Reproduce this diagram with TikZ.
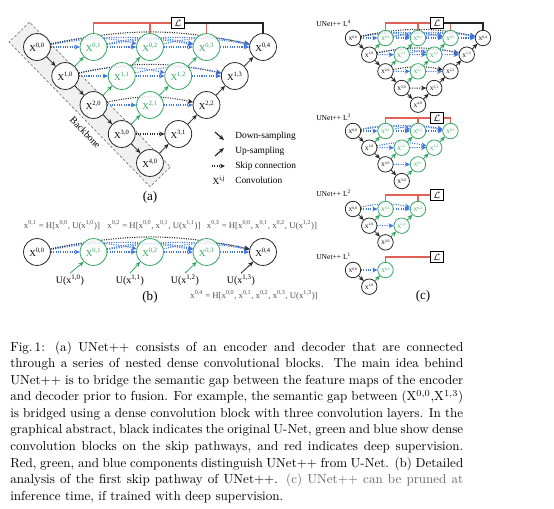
\documentclass[tikz,border=0pt]{standalone}
\usepackage{fontspec}
\newfontfamily\tms{Liberation Serif}
\usetikzlibrary{arrows.meta, positioning, backgrounds, calc}
\usepackage{xcolor}
\definecolor{netgreen}{RGB}{50,165,95}
\definecolor{netblue}{RGB}{60,115,225}
\definecolor{lossred}{RGB}{226,96,86}
\definecolor{eqgray}{RGB}{80,80,80}

% one nested network X^{i,j}, i+j <= depth
% #1 name prefix, #2 depth, #3 = 1 if the last decoder is the plain U-Net
\newcommand\unetnet[3]{%
  \foreach \i in {0,...,#2}{%
    \pgfmathtruncatemacro\jmax{#2-\i}%
    \foreach \j in {0,...,\jmax}{%
      \def\sty{nest}%
      \ifnum\j=0 \def\sty{enc}\fi
      \ifnum#3=1 \ifnum\j=\jmax \def\sty{enc}\fi\fi
      \node[\sty] (#1-\i-\j) at ({28.25*(\i+2*\j)},{29*\i}) {X\textsuperscript{\i,\j}};
    }%
  }%
  % connectors go behind the nodes
  \begin{scope}[on background layer]
  \foreach \i in {0,...,#2}{%
    \pgfmathtruncatemacro\jmax{#2-\i}%
    \pgfmathtruncatemacro\ii{\i+1}%
    \ifnum\i<#2 \draw[blackarr] (#1-\i-0) -- (#1-\ii-0);\fi
    \ifnum\jmax>0
      \foreach \j in {1,...,\jmax}{%
        \pgfmathtruncatemacro\pj{\j-1}%
        \def\isplain{0}%
        \ifnum#3=1 \ifnum\j=\jmax \def\isplain{1}\fi\fi
        % up-sampling
        \ifnum\isplain=1
          \draw[blackarr] (#1-\ii-\pj) -- (#1-\i-\j);
        \else
          \draw[greenarr] (#1-\ii-\pj) -- (#1-\i-\j);
        \fi
        % skip from the left neighbour
        \def\sk{skipblue}%
        \ifnum\isplain=1 \ifnum\pj=0 \def\sk{skipblack}\fi\fi
        \draw[\sk] (#1-\i-\pj) -- (#1-\i-\j);
        % longer skips
        \ifnum\j>1
          \pgfmathtruncatemacro\kmax{\j-2}%
          \foreach \k in {0,...,\kmax}{%
            \def\sk{skipblue}\def\bnd{13}%
            \pgfmathtruncatemacro\gap{\j-\k}%
            \ifnum\gap>2 \def\bnd{10}\fi
            \ifnum\k=0 \ifnum\isplain=1 \def\sk{skipblack}\def\bnd{12}\fi\fi
            \draw[\sk] (#1-\i-\k) to[bend left=\bnd] (#1-\i-\j);
          }%
        \fi
      }%
    \fi
  }%
  \end{scope}%
}

\begin{document}
\begin{tikzpicture}[x=0.766pt, y=-0.766pt,
    netnode/.style={circle, draw, line width=0.6pt, minimum size=20.6pt, inner sep=0pt,
                    fill=white, fill opacity=0.8, text opacity=1, font=\tms\fontsize{7}{8}\selectfont},
    enc/.style={netnode, draw=black!85, text=black},
    nest/.style={netnode, draw=netgreen, text=netgreen},
    blackarr/.style={-{Stealth[length=4pt, width=3.4pt]}, line width=0.6pt, black!85},
    greenarr/.style={-{Stealth[length=4pt, width=3.4pt]}, line width=0.6pt, netgreen},
    skipblue/.style={-{Stealth[length=4pt, width=3.6pt]}, densely dotted, line width=0.8pt, netblue},
    skipblack/.style={skipblue, black!85},
    lossbox/.style={rectangle, draw, line width=0.9pt, fill=white, minimum width=10pt,
                    minimum height=8.8pt, inner sep=0pt, font=\fontsize{7}{7}\selectfont},
    redwire/.style={lossred, line width=0.8pt},
    blackwire/.style={black!85, line width=0.9pt},
    backbone/.style={draw=black!55, dash pattern=on 2pt off 1.5pt, line width=0.5pt, fill=black!6},
    bbtext/.style={font=\tms\fontsize{7.5}{8}\selectfont, inner sep=0pt},
    lgtext/.style={font=\tms\fontsize{7.2}{8}\selectfont, anchor=west, inner sep=0pt},
    eqtext/.style={font=\tms\fontsize{6.7}{8}\selectfont, text=eqgray, inner sep=0pt},
    ulabel/.style={font=\tms\fontsize{7.6}{9}\selectfont, inner sep=1pt},
    nettitle/.style={font=\tms\fontsize{5.8}{7}\selectfont, anchor=west, inner sep=0pt},
    panel/.style={font=\tms\fontsize{10}{12}\selectfont, inner sep=0pt}
]
\useasboundingbox (0,0) rectangle (554,508);

% --- (a) Backbone ---
\begin{scope}[on background layer, shift={(37,47)}, rotate=-45.75]
    \draw[backbone] (-23,-12) rectangle (179,16.5);
    \node[bbtext, rotate=-45.75] (bb) at (95,25) {Backbone};
\end{scope}

% --- (a) Full UNet++ ---
\begin{scope}[shift={(37,47)}]
    \unetnet{a}{4}{1}
\end{scope}

% deep supervision of (a)
\node[lossbox] (loss-a) at (178,23) {$\mathcal{L}$};
\draw[redwire] (a-0-1.north) |- (loss-a.west);
\draw[redwire] (a-0-2.north) -- (a-0-2.north |- loss-a.west);
\draw[redwire] (a-0-3.north) |- (loss-a.east);
\draw[blackwire] (loss-a.east) -| (a-0-4.north);

% --- Legend ---
\coordinate (lg-d1) at (215,132); \coordinate (lg-d2) at (224,140);
\coordinate (lg-u1) at (215,156); \coordinate (lg-u2) at (224,148);
\coordinate (lg-s1) at (212,166); \coordinate (lg-s2) at (225,166);
\draw[blackarr, line width=0.9pt] (lg-d1) -- (lg-d2);
\draw[blackarr, line width=0.9pt] (lg-u1) -- (lg-u2);
\draw[skipblack] (lg-s1) -- (lg-s2);
\node[lgtext, anchor=center] (lg-x) at (219,180) {X\textsuperscript{i,j}};
\node[lgtext] (lg-t1) at (235,136) {Down-sampling};
\node[lgtext] (lg-t2) at (235,151) {Up-sampling};
\node[lgtext] (lg-t3) at (235,166) {Skip connection};
\node[lgtext] (lg-t4) at (235,180) {Convolution};

\node[panel] (lab-a) at (150,197) {(a)};

% --- (b) First skip pathway ---
\node[enc]  (b-0-0) at (37,252)  {X\textsuperscript{0,0}};
\node[nest] (b-0-1) at (93.5,252) {X\textsuperscript{0,1}};
\node[nest] (b-0-2) at (150,252) {X\textsuperscript{0,2}};
\node[nest] (b-0-3) at (206.5,252) {X\textsuperscript{0,3}};
\node[enc]  (b-0-4) at (263,252) {X\textsuperscript{0,4}};

\begin{scope}[on background layer]
    \foreach \j [count=\pj from 0] in {1,2,3,4}
        \draw[skipblue] (b-0-\pj) -- (b-0-\j);
    \draw[skipblue] (b-0-0) to[bend left=13] (b-0-2);
    \draw[skipblue] (b-0-1) to[bend left=13] (b-0-3);
    \draw[skipblue] (b-0-2) to[bend left=13] (b-0-4);
    \draw[skipblue] (b-0-0) to[bend left=10] (b-0-3);
    \draw[skipblue] (b-0-1) to[bend left=10] (b-0-4);
    \draw[skipblack] (b-0-0) to[bend left=12] (b-0-4);
\end{scope}

\node[eqtext] (eq1) at (62,225) {x\textsuperscript{0,1} = H[x\textsuperscript{0,0}, U(x\textsuperscript{1,0})]};
\node[eqtext] (eq2) at (154,225) {x\textsuperscript{0,2} = H[x\textsuperscript{0,0}, x\textsuperscript{0,1}, U(x\textsuperscript{1,1})]};
\node[eqtext] (eq3) at (262,225) {x\textsuperscript{0,3} = H[x\textsuperscript{0,0}, x\textsuperscript{0,1}, x\textsuperscript{0,2}, U(x\textsuperscript{1,2})]};
\node[eqtext] (eq4) at (254,295) {x\textsuperscript{0,4} = H[x\textsuperscript{0,0}, x\textsuperscript{0,1}, x\textsuperscript{0,2}, x\textsuperscript{0,3}, U(x\textsuperscript{1,3})]};

\node[ulabel] (u1) at (70,280) {U(x\textsuperscript{1,0})};
\node[ulabel] (u2) at (130,280) {U(x\textsuperscript{1,1})};
\node[ulabel] (u3) at (185,280) {U(x\textsuperscript{1,2})};
\node[ulabel] (u4) at (241,280) {U(x\textsuperscript{1,3})};
\draw[greenarr] (u1.north) -- (b-0-1.225);
\draw[greenarr] (u2.north) -- (b-0-2.225);
\draw[greenarr] (u3.north) -- (b-0-3.225);
\draw[blackarr] (u4.north) -- (b-0-4.225);

\node[panel] (lab-b) at (150,297) {(b)};

% --- (c) Pruned networks ---
\begin{scope}[shift={(353,38)}, scale=0.575, transform shape]
    \unetnet{c4}{4}{1}
\end{scope}
\begin{scope}[shift={(353,131)}, scale=0.575, transform shape]
    \unetnet{c3}{3}{0}
\end{scope}
\begin{scope}[shift={(353,209)}, scale=0.575, transform shape]
    \unetnet{c2}{2}{0}
\end{scope}
\begin{scope}[shift={(353,270)}, scale=0.575, transform shape]
    \unetnet{c1}{1}{0}
\end{scope}

\node[nettitle] (t4) at (316,23)  {UNet++ L\textsuperscript{4}};
\node[nettitle] (t3) at (316,117) {UNet++ L\textsuperscript{3}};
\node[nettitle] (t2) at (316,193) {UNet++ L\textsuperscript{2}};
\node[nettitle] (t1) at (316,256) {UNet++ L\textsuperscript{1}};

\node[lossbox] (loss4) at (437,23)  {$\mathcal{L}$};
\node[lossbox] (loss3) at (437,118) {$\mathcal{L}$};
\node[lossbox] (loss2) at (437,195) {$\mathcal{L}$};
\node[lossbox] (loss1) at (437,257) {$\mathcal{L}$};

\draw[redwire] (c4-0-1.north) |- (loss4.west);
\draw[redwire] (c4-0-2.north) -- (c4-0-2.north |- loss4.west);
\draw[redwire] (c4-0-3.north) |- (loss4.east);
\draw[blackwire] (loss4.east) -| (c4-0-4.north);

\draw[redwire] (c3-0-1.north) |- (loss3.west);
\draw[redwire] (c3-0-2.north) -- (c3-0-2.north |- loss3.west);
\draw[redwire] (c3-0-3.north) |- (loss3.east);

\draw[redwire] (c2-0-1.north) |- (loss2.west);
\draw[redwire] (c2-0-2.north) -- (c2-0-2.north |- loss2.west);

\draw[redwire] (c1-0-1.north) |- (loss1.west);

\node[panel] (lab-c) at (423,296) {(c)};

% --- Caption ---
\node[anchor=north west, inner sep=0pt, text width=347pt, align=justify,
      font=\fontsize{10}{12.7}\selectfont] (caption) at (10,341) {%
Fig.\,1: (a) UNet++ consists of an encoder and decoder that are connected\linebreak
through a series of nested dense convolutional blocks. The main idea behind\linebreak
UNet++ is to bridge the semantic gap between the feature maps of the encoder\linebreak
and decoder prior to fusion. For example, the semantic gap between (X$^{0,0}$,X$^{1,3}$)\linebreak
is bridged using a dense convolution block with three convolution layers. In the\linebreak
graphical abstract, black indicates the original U-Net, green and blue show dense\linebreak
convolution blocks on the skip pathways, and red indicates deep supervision.\linebreak
Red, green, and blue components distinguish UNet++ from U-Net. (b) Detailed\linebreak
analysis of the first skip pathway of UNet++. \textcolor{black!60}{(c) UNet++ can be pruned at}\linebreak
inference time, if trained with deep supervision.};

\end{tikzpicture}
\end{document}
